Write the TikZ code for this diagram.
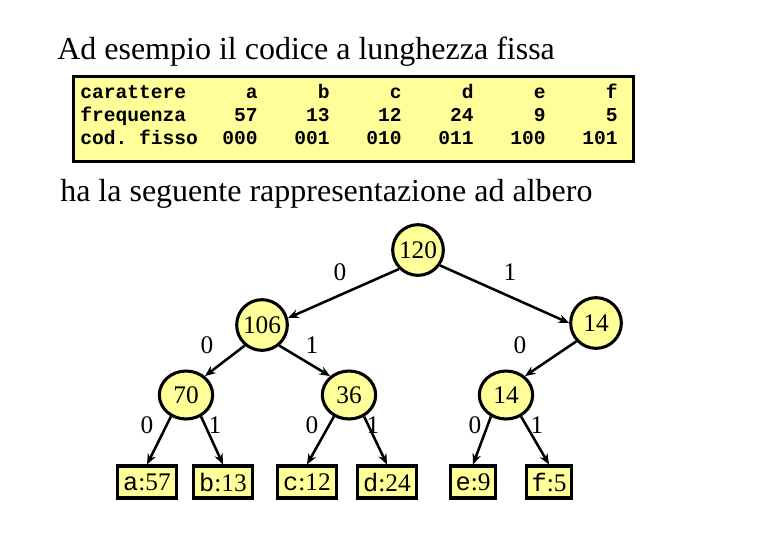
\documentclass[tikz,border=0pt]{standalone}
\usepackage{fontspec}
\setmainfont{Liberation Serif}
\setmonofont{Liberation Mono}
\usetikzlibrary{arrows.meta,shapes.geometric}
\definecolor{paleyellow}{RGB}{255,255,153}
\tikzset{
  heading/.style={anchor=base west,inner sep=0pt,font=\fontsize{24}{28}\selectfont},
  cell/.style={anchor=base east,inner sep=0pt,font=\fontsize{14.7}{16}\selectfont\ttfamily\bfseries},
  inner/.style={circle,draw,fill=paleyellow,line width=2.3pt,minimum size=38pt,inner sep=0pt,font=\fontsize{19}{19}\selectfont},
  lower/.style={inner,ellipse,minimum width=40pt,minimum height=36pt},
  leaf/.style={rectangle,draw,fill=paleyellow,line width=2.3pt,minimum height=24pt,inner xsep=4pt,inner ysep=0pt,font=\fontsize{19}{19}\selectfont},
  bit/.style={font=\fontsize{19}{19}\selectfont},
  link/.style={-{Stealth[length=8pt,width=6.5pt]},line width=1.9pt},
}
\begin{document}
\begin{tikzpicture}[x=0.75pt,y=-0.75pt]
\useasboundingbox (0,0) rectangle (780,540);

% titolo e tabella
\node[heading] (title) at (57,59) {Ad esempio il codice a lunghezza fissa};
\node[draw,fill=paleyellow,line width=2.3pt,anchor=north west,minimum width=420pt,minimum height=63.5pt] (tab) at (72,75) {};
\node[cell,anchor=base west] (r1) at (80,98) {carattere};
\node[cell,anchor=base west] (r2) at (80,121) {frequenza};
\node[cell,anchor=base west] (r3) at (80,144) {cod. fisso};
\foreach \ch/\fr/\cd [count=\i] in {a/57/000,b/13/001,c/12/010,d/24/011,e/9/100,f/5/101}{
  \node[cell] (ch\i) at (258+72*\i-72,98) {\ch};
  \node[cell] (fr\i) at (258+72*\i-72,121) {\fr};
  \node[cell] (cd\i) at (258+72*\i-72,144) {\cd};
}
\node[heading] (subtitle) at (60,201) {ha la seguente rappresentazione ad albero};

% albero
\node[inner] (n120) at (418,250) {120};
\node[inner] (n106) at (262,325) {106};
\node[inner] (n14) at (596,323) {14};
\node[lower] (n70) at (186,395) {70};
\node[lower] (n36) at (349,395) {36};
\node[lower] (m14) at (506,395) {14};

\node[leaf] (la) at (147,482) {\texttt{a}:57};
\node[leaf] (lb) at (223,482) {\texttt{b}:13};
\node[leaf] (lc) at (307,482) {\texttt{c}:12};
\node[leaf] (ld) at (387,482) {\texttt{d}:24};
\node[leaf] (le) at (473,482) {\texttt{e}:9};
\node[leaf] (lf) at (549,482) {\texttt{f}:5};

\draw[link] (n120.225) -- (n106.15);
\draw[link] (n120.325) -- (n14.west);
\draw[link] (n106.230) -- (n70.45);
\draw[link] (n106.310) -- (n36.135);
\draw[link] (n14.223) -- (m14.45);
\draw[link] (n70.235) -- (la.north);
\draw[link] (n70.305) -- (lb.north);
\draw[link] (n36.235) -- (lc.north);
\draw[link] (n36.305) -- (ld.north);
\draw[link] (m14.235) -- (le.north);
\draw[link] (m14.305) -- (lf.north);

% etichette dei rami
\node[bit] (b1) at (340,272) {0};
\node[bit] (b2) at (510,272) {1};
\node[bit] (b3) at (207,345) {0};
\node[bit] (b4) at (312,345) {1};
\node[bit] (b5) at (520,345) {0};
\node[bit] (b6) at (147,425) {0};
\node[bit] (b7) at (215,425) {1};
\node[bit] (b8) at (312,425) {0};
\node[bit] (b9) at (373,425) {1};
\node[bit] (b10) at (475,425) {0};
\node[bit] (b11) at (537,425) {1};
\end{tikzpicture}
\end{document}
